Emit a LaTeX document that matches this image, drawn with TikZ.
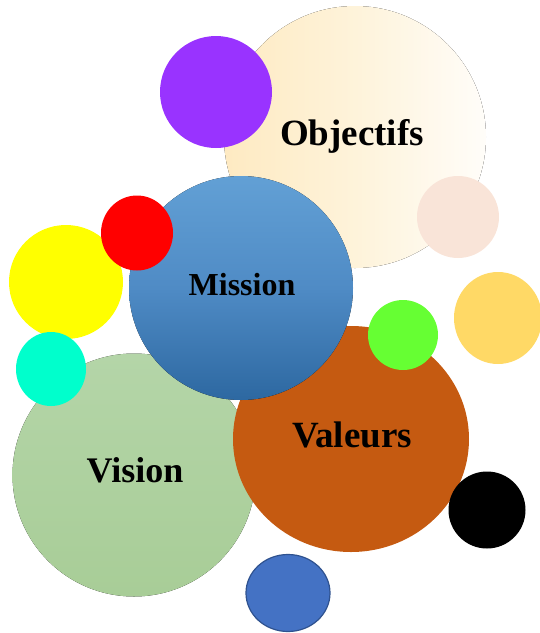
\documentclass[tikz,border=0pt]{standalone}
\usepackage{fontspec}
\setmainfont{Liberation Serif}
\definecolor{objcream}{HTML}{FEEAC2}
\definecolor{objmid}{HTML}{FEF3DA}
\definecolor{objwhite}{HTML}{FFFDF9}
\definecolor{violet}{HTML}{9933FF}
\definecolor{rosepale}{HTML}{F9E4D8}
\definecolor{orangepale}{HTML}{FFD966}
\definecolor{missiontop}{HTML}{62A0D5}
\definecolor{missionmid}{HTML}{4F8BC5}
\definecolor{missionbot}{HTML}{2D68A1}
\definecolor{visiontop}{HTML}{B4D5A8}
\definecolor{visionbot}{HTML}{A8CD97}
\definecolor{valeurs}{HTML}{C55A11}
\definecolor{jaune}{HTML}{FFFF00}
\definecolor{rouge}{HTML}{FF0000}
\definecolor{vert}{HTML}{66FF33}
\definecolor{turquoise}{HTML}{00FFCC}
\definecolor{bleu}{HTML}{4472C4}
\definecolor{bleubord}{HTML}{2F528F}
\begin{document}
\begin{tikzpicture}[x=1pt,y=-1pt,
    mot/.style={anchor=base,font=\bfseries\fontsize{36}{40}\selectfont}]
    \useasboundingbox (0,0) rectangle (540,633);
    \fill[left color=objcream,right color=objwhite,middle color=objmid] (355,137) circle[radius=131];
    \fill[violet] (216,92) circle[radius=56];
    \fill[rosepale] (458,217) circle[radius=41];
    \fill[orangepale] (498,318) ellipse[x radius=44,y radius=46];
    \fill[top color=visiontop,bottom color=visionbot] (134,475) circle[radius=121.5];
    \fill[valeurs] (351,439) ellipse[x radius=118,y radius=113];
    \fill[top color=missiontop,bottom color=missionbot,middle color=missionmid] (241,288) circle[radius=112];
    \fill[jaune] (66,282) circle[radius=57];
    \fill[rouge] (137,233) ellipse[x radius=36,y radius=37.5];
    \fill[turquoise] (51,369) ellipse[x radius=35,y radius=37];
    \fill[vert] (403,335) circle[radius=35];
    \fill[black] (487,510) circle[radius=38.5];
    \draw[bleubord,line width=1.2pt,fill=bleu] (288,593) ellipse[x radius=42,y radius=38.5];
    \node[mot,font=\bfseries\fontsize{37}{40}\selectfont] (objectifs) at (352,145) {Objectifs};
    \node[mot,font=\bfseries\fontsize{32}{36}\selectfont] (mission) at (242,295) {Mission};
    \node[mot] (vision) at (135,482) {Vision};
    \node[mot,font=\bfseries\fontsize{37}{40}\selectfont] (valeurs) at (352,447) {Valeurs};
\end{tikzpicture}
\end{document}
